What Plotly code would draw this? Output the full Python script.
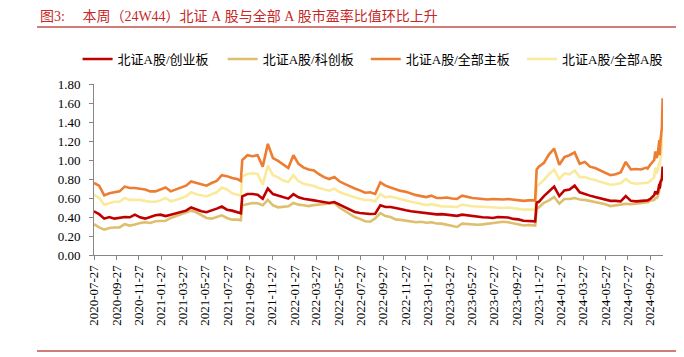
import plotly.graph_objects as go

# ---------------- data ----------------
dates = [
    "2020-07-27", "2020-08-10", "2020-08-24", "2020-09-07", "2020-09-21", "2020-10-05",
    "2020-10-19", "2020-11-02", "2020-11-16", "2020-11-30", "2020-12-14", "2020-12-28",
    "2021-01-11", "2021-01-25", "2021-02-08", "2021-02-22", "2021-03-08", "2021-03-22",
    "2021-04-05", "2021-04-19", "2021-05-03", "2021-05-17", "2021-05-31", "2021-06-14",
    "2021-06-28", "2021-07-12", "2021-07-26", "2021-08-09", "2021-08-23", "2021-09-02",
    "2021-09-06", "2021-09-20", "2021-10-04", "2021-10-18", "2021-11-01", "2021-11-15",
    "2021-11-29", "2021-12-13", "2021-12-27",
    "2022-01-10", "2022-01-24", "2022-02-07", "2022-02-21", "2022-03-07", "2022-03-21",
    "2022-04-04", "2022-04-18", "2022-05-02", "2022-05-16", "2022-05-30", "2022-06-13",
    "2022-06-27", "2022-07-11", "2022-07-25", "2022-08-08", "2022-08-22", "2022-09-05",
    "2022-09-19", "2022-10-03", "2022-10-17", "2022-10-31", "2022-11-14", "2022-11-28",
    "2022-12-12", "2022-12-26",
    "2023-01-09", "2023-01-23", "2023-02-06", "2023-02-20", "2023-03-06", "2023-03-20",
    "2023-04-03", "2023-04-17", "2023-05-01", "2023-05-15", "2023-05-29", "2023-06-12",
    "2023-06-26", "2023-07-10", "2023-07-24", "2023-08-07", "2023-08-21", "2023-09-04",
    "2023-09-18", "2023-10-02", "2023-10-16", "2023-10-30", "2023-11-13", "2023-11-17",
    "2023-11-21", "2023-11-27", "2023-12-11", "2023-12-25",
    "2024-01-08", "2024-01-22", "2024-02-05", "2024-02-19", "2024-03-04", "2024-03-18",
    "2024-04-01", "2024-04-15", "2024-04-29", "2024-05-13", "2024-05-27", "2024-06-10",
    "2024-06-24", "2024-07-08", "2024-07-22", "2024-08-05", "2024-08-19", "2024-09-02",
    "2024-09-16", "2024-09-20", "2024-09-27", "2024-10-08", "2024-10-11", "2024-10-15",
    "2024-10-18", "2024-10-22", "2024-10-23", "2024-10-25", "2024-10-29", "2024-10-31",
    "2024-11-01",
]

# 北证A股/创业板
bse_chinext = [
    0.46, 0.43, 0.383, 0.40, 0.383, 0.39, 0.40, 0.397, 0.425, 0.397, 0.383, 0.40,
    0.418, 0.425, 0.41, 0.425, 0.44, 0.45, 0.467, 0.50, 0.477, 0.46, 0.45, 0.467,
    0.488, 0.51, 0.477, 0.467, 0.45, 0.44,
    0.617, 0.642, 0.642, 0.635, 0.593, 0.70, 0.642, 0.628, 0.607,
    0.593, 0.64, 0.607, 0.593, 0.58, 0.575, 0.565, 0.554, 0.547, 0.558, 0.53, 0.502,
    0.477, 0.453, 0.442, 0.435, 0.432, 0.435, 0.523, 0.505,
    0.505, 0.495, 0.48, 0.47, 0.46, 0.455,
    0.447, 0.44, 0.432, 0.428, 0.43, 0.425, 0.418, 0.412, 0.425, 0.418, 0.41, 0.40,
    0.397, 0.395, 0.39, 0.40, 0.40, 0.395, 0.38, 0.375, 0.36, 0.355, 0.355, 0.355,
    0.55, 0.56, 0.62, 0.67,
    0.72, 0.62, 0.68, 0.69, 0.73, 0.66, 0.64, 0.625, 0.61, 0.595, 0.58, 0.57,
    0.57, 0.565, 0.62, 0.57, 0.565, 0.57, 0.575, 0.575, 0.59, 0.63, 0.67, 0.64,
    0.66, 0.75, 0.70, 0.77, 0.80, 0.93, 0.90,
]

# 北证A股/科创板
bse_star = [
    0.325, 0.29, 0.267, 0.284, 0.29, 0.29, 0.325, 0.31, 0.32, 0.337, 0.345, 0.337,
    0.355, 0.36, 0.36, 0.39, 0.41, 0.43, 0.45, 0.467, 0.45, 0.418, 0.39, 0.383,
    0.40, 0.418, 0.39, 0.372, 0.372, 0.365,
    0.523, 0.537, 0.547, 0.544, 0.523, 0.58, 0.523, 0.502, 0.505,
    0.512, 0.547, 0.53, 0.523, 0.515, 0.525, 0.53, 0.537, 0.544, 0.547, 0.50, 0.467,
    0.43, 0.40, 0.38, 0.355, 0.35, 0.385, 0.44, 0.41,
    0.40, 0.375, 0.37, 0.36, 0.355, 0.345,
    0.35, 0.34, 0.345, 0.332, 0.33, 0.32, 0.31, 0.295, 0.33, 0.325, 0.32, 0.318,
    0.322, 0.33, 0.335, 0.345, 0.35, 0.345, 0.335, 0.325, 0.31, 0.315, 0.31, 0.31,
    0.49, 0.50, 0.55, 0.575,
    0.61, 0.54, 0.59, 0.59, 0.60, 0.585, 0.58, 0.57, 0.555, 0.55, 0.535, 0.515,
    0.52, 0.53, 0.54, 0.535, 0.54, 0.545, 0.55, 0.555, 0.57, 0.58, 0.60, 0.60,
    0.62, 0.70, 0.68, 0.72, 0.80, 0.90, 0.88,
]

# 北证A股/全部主板
bse_mainboard = [
    0.758, 0.73, 0.628, 0.65, 0.66, 0.67, 0.72, 0.705, 0.705, 0.70, 0.69, 0.67,
    0.67, 0.69, 0.71, 0.67, 0.69, 0.705, 0.73, 0.775, 0.76, 0.74, 0.73, 0.758,
    0.78, 0.84, 0.83, 0.81, 0.80, 0.78,
    1.00, 1.05, 1.04, 1.05, 0.93, 1.17, 1.02, 0.99, 0.95,
    0.915, 1.05, 0.96, 0.92, 0.90, 0.89, 0.85, 0.82, 0.80, 0.82, 0.776, 0.748,
    0.72, 0.70, 0.68, 0.656, 0.66, 0.642, 0.765, 0.73,
    0.71, 0.69, 0.675, 0.665, 0.645, 0.63,
    0.62, 0.61, 0.625, 0.60, 0.60, 0.605, 0.595, 0.59, 0.625, 0.61, 0.60, 0.595,
    0.59, 0.585, 0.59, 0.585, 0.585, 0.59, 0.585, 0.58, 0.57, 0.575, 0.58, 0.575,
    0.90, 0.93, 0.97, 1.06,
    1.12, 0.95, 1.03, 1.05, 1.08, 0.96, 0.98, 0.93, 0.915, 0.89, 0.865, 0.84,
    0.85, 0.87, 0.98, 0.90, 0.905, 0.90, 0.92, 0.91, 0.95, 1.00, 1.09, 1.02,
    1.08, 1.21, 1.05, 1.20, 1.34, 1.65, 1.52,
]

# 北证A股/全部A股
bse_allA = [
    0.635, 0.60, 0.53, 0.547, 0.56, 0.56, 0.60, 0.58, 0.58, 0.58, 0.57, 0.56,
    0.56, 0.575, 0.60, 0.565, 0.58, 0.60, 0.617, 0.66, 0.64, 0.63, 0.617, 0.64,
    0.66, 0.71, 0.69, 0.65, 0.64, 0.625,
    0.828, 0.853, 0.86, 0.853, 0.74, 0.94, 0.84, 0.818, 0.783,
    0.768, 0.84, 0.776, 0.751, 0.74, 0.726, 0.705, 0.688, 0.677, 0.698, 0.663, 0.642,
    0.621, 0.607, 0.593, 0.579, 0.579, 0.565, 0.642, 0.607,
    0.615, 0.60, 0.585, 0.575, 0.56, 0.55,
    0.54, 0.525, 0.535, 0.52, 0.512, 0.51, 0.507, 0.505, 0.53, 0.52, 0.513, 0.51,
    0.508, 0.50, 0.50, 0.498, 0.495, 0.50, 0.49, 0.485, 0.478, 0.48, 0.48, 0.475,
    0.72, 0.74, 0.79, 0.85,
    0.90, 0.80, 0.86, 0.85, 0.89, 0.82, 0.82, 0.80, 0.79, 0.77, 0.755, 0.74,
    0.745, 0.755, 0.80, 0.76, 0.75, 0.755, 0.765, 0.76, 0.78, 0.82, 0.92, 0.86,
    0.90, 0.98, 0.94, 1.00, 1.14, 1.27, 1.21,
]

series_names = ["北证A股/创业板", "北证A股/科创板", "北证A股/全部主板", "北证A股/全部A股"]

tick_dates = [
    "2020-07-27", "2020-09-27", "2020-11-27", "2021-01-27", "2021-03-27", "2021-05-27",
    "2021-07-27", "2021-09-27", "2021-11-27", "2022-01-27", "2022-03-27", "2022-05-27",
    "2022-07-27", "2022-09-27", "2022-11-27", "2023-01-27", "2023-03-27", "2023-05-27",
    "2023-07-27", "2023-09-27", "2023-11-27", "2024-01-27", "2024-03-27", "2024-05-27",
    "2024-07-27", "2024-09-27",
]
y_ticks = [0.0, 0.2, 0.4, 0.6, 0.8, 1.0, 1.2, 1.4, 1.6, 1.8]

title_text = ("图3:\u00a0\u00a0\u00a0\u00a0\u00a0本周（24W44）北证\u00a0A\u00a0股与全部"
              "\u00a0A\u00a0股市盈率比值环比上升")
source_text = "资料来源：Wind，浙商证券研究所"

for s in (bse_chinext, bse_star, bse_mainboard, bse_allA):
    assert len(s) == len(dates), (len(s), len(dates))

# ---------------- layout geometry (pixels) ----------------
W, H = 684, 357
L, R, T, B = 86, 655, 76, 247          # plot area
PW, PH = R - L, B - T

def px_x(x):
    return (x - L) / PW

def px_y(y):
    return (B - y) / PH

FONT = "Liberation Serif, Noto Sans CJK SC, serif"
RED_LINE = "#C0504D"

colors = ["#C00000", "#DDBF6E", "#ED7D31", "#FAEA9C"]
values = [bse_chinext, bse_star, bse_mainboard, bse_allA]
legend_ids = ["legend", "legend2", "legend3", "legend4"]
legend_sample_x = [79.6, 224.7, 367.8, 524.0]
draw_order = [1, 3, 2, 0]   # tan, light yellow, orange, red on top

fig = go.Figure()
for i in draw_order:
    fig.add_trace(go.Scatter(
        x=dates, y=values[i], mode="lines", name=series_names[i],
        line=dict(color=colors[i], width=2.6),
        legend=legend_ids[i], hoverinfo="skip",
    ))

legend_common = dict(
    orientation="h", yanchor="middle", xanchor="left",
    font=dict(family=FONT, size=13, color="#000000"),
    bgcolor="rgba(0,0,0,0)", borderwidth=0,
)
legends = {}
for i, lid in enumerate(legend_ids):
    legends[lid] = dict(legend_common, x=px_x(legend_sample_x[i] - 10), y=px_y(51))

axis_color = "#868686"
fig.update_layout(
    width=W, height=H,
    margin=dict(l=L, r=W - R, t=T, b=H - B, pad=0),
    paper_bgcolor="white", plot_bgcolor="white",
    font=dict(family=FONT, size=13, color="#000000"),
    showlegend=True,
    xaxis=dict(
        type="date", range=["2020-07-27", "2024-11-01"],
        tickmode="array", tickvals=tick_dates, ticktext=tick_dates,
        tickangle=-90, ticks="outside", ticklen=4, tickcolor=axis_color,
        showline=True, linecolor=axis_color, linewidth=1,
        showgrid=False, zeroline=False,
        tickfont=dict(family=FONT, size=13, color="#000000"),
    ),
    yaxis=dict(
        range=[0, 1.8], tickmode="array", tickvals=y_ticks,
        ticktext=[f"{v:.2f}" for v in y_ticks],
        ticks="outside", ticklen=4, tickcolor=axis_color,
        showline=True, linecolor=axis_color, linewidth=1,
        showgrid=False, zeroline=False, ticklabelstandoff=6,
        tickfont=dict(family=FONT, size=13, color="#000000"),
    ),
    shapes=[
        dict(type="line", xref="paper", yref="paper",
             x0=px_x(29), x1=px_x(674), y0=px_y(19), y1=px_y(19),
             line=dict(color=RED_LINE, width=1.5)),
        dict(type="line", xref="paper", yref="paper",
             x0=px_x(29), x1=px_x(674), y0=px_y(343), y1=px_y(343),
             line=dict(color=RED_LINE, width=1.5)),
    ],
    annotations=[
        dict(text=title_text, xref="paper", yref="paper",
             x=px_x(30), y=px_y(8), xanchor="left", yanchor="middle",
             showarrow=False, font=dict(family=FONT, size=14, color="#C62828")),
        dict(text=source_text, xref="paper", yref="paper",
             x=px_x(29), y=px_y(349), xanchor="left", yanchor="top",
             showarrow=False, font=dict(family=FONT, size=12, color="#000000")),
    ],
    **legends,
)

fig.write_html("out.html")
